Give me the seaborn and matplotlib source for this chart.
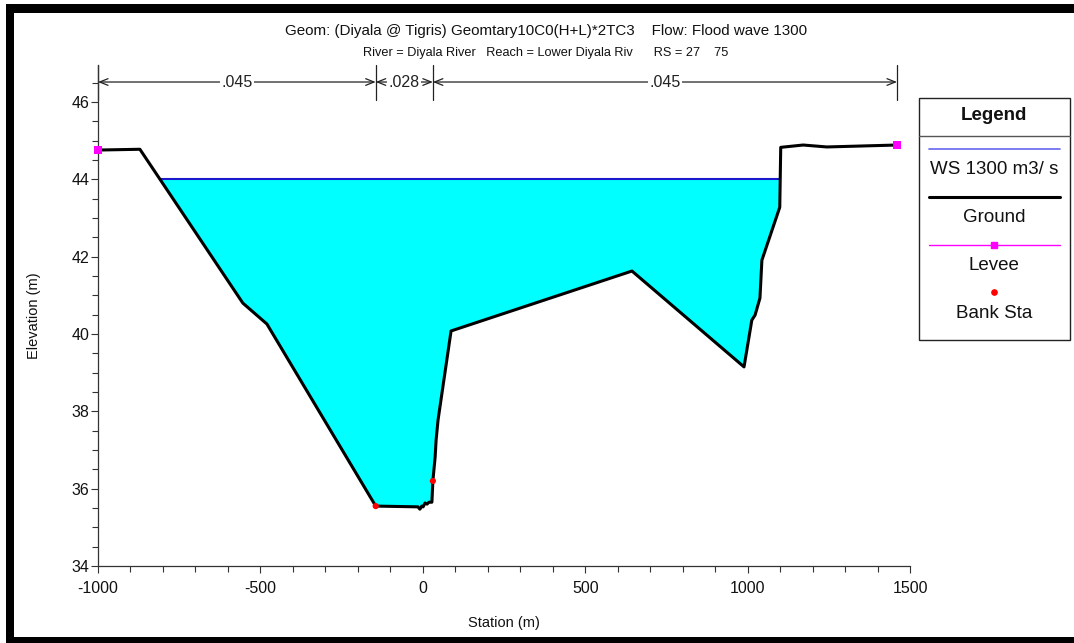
import numpy as np
import pandas as pd
import matplotlib
matplotlib.use("Agg")
import matplotlib.pyplot as plt
from matplotlib.patches import Rectangle
from matplotlib.lines import Line2D
import seaborn as sns

# ---------------- data ----------------
station = [-1000, -871, -554, -480, -145, -15, -9, -3, 1, 7, 13, 19, 28, 31, 38, 41, 47, 87,
           644, 989, 1013, 1023, 1038, 1044, 1099, 1102, 1171, 1244, 1460]
elevation = [44.76, 44.78, 40.80, 40.26, 35.55, 35.53, 35.47, 35.55, 35.53, 35.63, 35.60, 35.65, 35.65,
             36.20, 36.82, 37.26, 37.78, 40.08,
             41.63, 39.15, 40.36, 40.49, 40.93, 41.91, 43.28, 44.83, 44.89, 44.84, 44.89]
ws_elev = 44.0
levee_sta = [-1000, 1460]
levee_elev = [44.76, 44.89]
bank_sta = [-145, 31]
bank_elev = [35.55, 36.20]
n_bounds = [-1000, -145, 31, 1460]
n_values = [".045", ".028", ".045"]
title1 = "Geom: (Diyala @ Tigris) Geomtary10C0(H+L)*2TC3    Flow: Flood wave 1300"
title2 = "River = Diyala River   Reach = Lower Diyala Riv      RS = 27    75"
legend_labels = ["WS 1300 m3/ s", "Ground", "Levee", "Bank Sta"]

# ---------------- style ----------------
sns.set_theme(style="white")
plt.rcParams["font.family"] = ["Liberation Sans", "DejaVu Sans"]
plt.rcParams["axes.unicode_minus"] = False

W, H = 1074, 643
fig = plt.figure(figsize=(W / 100, H / 100), dpi=100)
fig.patch.set_facecolor("white")

def fx(px):
    return px / W

def fy(py):
    return 1 - py / H

ax = fig.add_axes([fx(98), fy(566), fx(910) - fx(98), fy(65) - fy(566)])
ax.set_facecolor("white")

ground = pd.DataFrame({"Station": station, "Elevation": elevation})
sta = np.array(station, dtype=float)
elv = np.array(elevation, dtype=float)

# water surface extent (crossings of ground with WS)
def crossings(s, e, level):
    xs = []
    for i in range(len(s) - 1):
        if (e[i] - level) * (e[i + 1] - level) < 0:
            t = (level - e[i]) / (e[i + 1] - e[i])
            xs.append(s[i] + t * (s[i + 1] - s[i]))
    return xs

cx = crossings(sta, elv, ws_elev)
x_left, x_right = cx[0], cx[-1]

ax.fill_between(sta, elv, ws_elev, where=elv < ws_elev, interpolate=True,
                color="#00ffff", linewidth=0, zorder=1)
ws_df = pd.DataFrame({"Station": [x_left, x_right], "Elevation": [ws_elev, ws_elev]})
sns.lineplot(data=ws_df, x="Station", y="Elevation", color="#1a1acc", linewidth=1.5,
             ax=ax, zorder=2)
sns.lineplot(data=ground, x="Station", y="Elevation", sort=False, estimator=None,
             color="black", linewidth=2.2, ax=ax, zorder=3)
sns.scatterplot(x=levee_sta, y=levee_elev, color="#ff00ff", marker="s", s=30,
                edgecolor="none", ax=ax, zorder=4, clip_on=False)
sns.scatterplot(x=bank_sta, y=bank_elev, color="red", marker="o", s=20,
                edgecolor="none", ax=ax, zorder=4)

ax.set_xlim(-1000, 1500)
ax.set_ylim(34, 46.96)
ax.set_xticks([-1000, -500, 0, 500, 1000, 1500])
ax.set_yticks([34, 36, 38, 40, 42, 44, 46])
ax.set_xticks(np.arange(-1000, 1501, 100), minor=True)
ax.set_yticks(np.arange(34, 47, 0.5), minor=True)
ax.tick_params(axis="both", which="major", direction="out", length=5, width=0.8,
               labelsize=11.5, color="#333333", labelcolor="#111111", pad=1,
               left=True, bottom=True)
ax.tick_params(axis="x", which="major", pad=6)
ax.tick_params(axis="both", which="minor", direction="out", length=4, width=0.8,
               color="#333333", left=True, bottom=True)
for side in ["top", "right"]:
    ax.spines[side].set_visible(False)
for side in ["left", "bottom"]:
    ax.spines[side].set_color("#333333")
    ax.spines[side].set_linewidth(0.9)
ax.set_xlabel("Station (m)", fontsize=10.5, labelpad=14, color="#111111")
ax.set_ylabel("Elevation (m)", fontsize=10.5, labelpad=22, color="#111111")
ax.grid(False)

# Manning's n annotations
y_arrow = 46.52
for i, nv in enumerate(n_values):
    a, b = n_bounds[i], n_bounds[i + 1]
    ax.annotate("", xy=(a, y_arrow), xytext=(b, y_arrow),
                arrowprops=dict(arrowstyle="<->,head_length=0.5,head_width=0.2",
                                color="#222222", lw=0.9, shrinkA=0, shrinkB=0),
                annotation_clip=False)
    ax.text((a + b) / 2, y_arrow, nv, ha="center", va="center", fontsize=11.5,
            color="#222222", bbox=dict(facecolor="white", edgecolor="none", pad=1.0),
            zorder=5)
for b in n_bounds:
    ax.plot([b, b], [46.05, 46.96], color="#222222", lw=0.9, clip_on=False)

# Titles
fig.text(fx(546), fy(31), title1, ha="center", va="center", fontsize=10.9, color="#111111")
fig.text(fx(546), fy(53), title2, ha="center", va="center", fontsize=9.2, color="#111111")

# Legend box
lx0, lx1, ly0, ly1 = 919, 1070, 98, 340
fig.patches.append(Rectangle((fx(lx0), fy(ly1)), fx(lx1) - fx(lx0), fy(ly0) - fy(ly1),
                             transform=fig.transFigure, facecolor="white",
                             edgecolor="#222222", linewidth=1.0))
fig.lines.append(Line2D([fx(lx0), fx(lx1)], [fy(136), fy(136)], transform=fig.transFigure,
                        color="#555555", linewidth=1.0))
fig.text(fx(994), fy(116), "Legend", ha="center", va="center", fontsize=13.5,
         fontweight="bold", color="#111111")
lxa, lxb = 929, 1060
fig.lines.append(Line2D([fx(lxa), fx(lxb)], [fy(149), fy(149)], transform=fig.transFigure,
                        color="#6666ee", linewidth=1.2))
fig.text(fx(994), fy(170), legend_labels[0], ha="center", va="center", fontsize=13.5, color="#111111")
fig.lines.append(Line2D([fx(lxa), fx(lxb)], [fy(197), fy(197)], transform=fig.transFigure,
                        color="black", linewidth=2.2))
fig.text(fx(994), fy(217), legend_labels[1], ha="center", va="center", fontsize=13.5, color="#111111")
fig.lines.append(Line2D([fx(lxa), fx(lxb)], [fy(245), fy(245)], transform=fig.transFigure,
                        color="#ff00ff", linewidth=1.0))
fig.lines.append(Line2D([fx(994)], [fy(245)], transform=fig.transFigure, color="#ff00ff",
                        marker="s", markersize=5, linestyle="none"))
fig.text(fx(994), fy(266), legend_labels[2], ha="center", va="center", fontsize=13.5, color="#111111")
fig.lines.append(Line2D([fx(994)], [fy(292)], transform=fig.transFigure, color="red",
                        marker="o", markersize=3.8, linestyle="none"))
fig.text(fx(994), fy(313), legend_labels[3], ha="center", va="center", fontsize=13.5, color="#111111")

# outer black frame bars
fig.patches.append(Rectangle((fx(6), fy(643)), fx(14) - fx(6), fy(4) - fy(643),
                             transform=fig.transFigure, facecolor="black", edgecolor="none"))
fig.patches.append(Rectangle((fx(6), fy(13)), fx(1074) - fx(6), fy(4) - fy(13),
                             transform=fig.transFigure, facecolor="black", edgecolor="none"))
fig.patches.append(Rectangle((fx(6), fy(643)), fx(1074) - fx(6), fy(637) - fy(643),
                             transform=fig.transFigure, facecolor="black", edgecolor="none"))

fig.savefig("out.png", dpi=100)
